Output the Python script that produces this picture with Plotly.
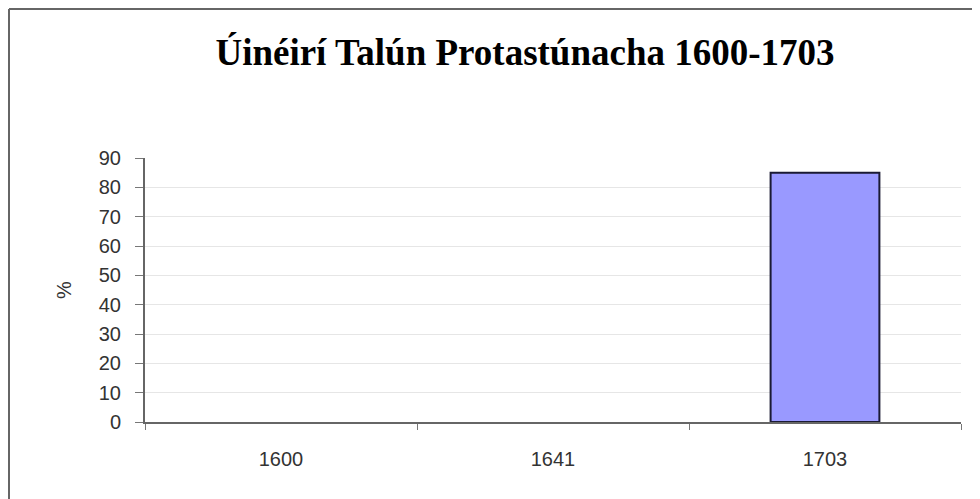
import plotly.graph_objects as go

categories = ["1600", "1641", "1703"]
values = [0, 0, 85]
y_ticks = [0, 10, 20, 30, 40, 50, 60, 70, 80, 90]

# page body adds an 8px offset; positions below are reference pixels minus 8
OFF = 8
W, H = 980, 499
L = 145 - OFF
T = 158 - OFF
R = W - (961 - OFF)
B = H - (422 - OFF)
pw, ph = W - L - R, H - T - B

def px_x(x):
    return (x - OFF - L) / pw

def px_y(y):
    return (H - B - (y - OFF)) / ph

fig = go.Figure()
fig.add_trace(go.Bar(
    x=categories, y=values,
    marker=dict(color="#9999ff",
                line=dict(color="#1a1a33", width=[2 if v > 0 else 0 for v in values])),
    width=0.4,
))

fig.update_layout(
    width=W, height=H,
    margin=dict(l=L, r=R, t=T, b=B),
    paper_bgcolor="white", plot_bgcolor="white",
    showlegend=False,
    title=dict(
        text="<b>Úinéirí Talún Protastúnacha 1600-1703</b>",
        font=dict(family="Liberation Serif, Times New Roman, serif", size=37, color="black"),
        x=px_x(525), xanchor="center", xref="paper",
        y=1 - (52 - OFF) / H, yanchor="middle",
    ),
    font=dict(family="Liberation Sans, Arial, sans-serif", color="#333333"),
)

fig.update_xaxes(
    type="category",
    tickson="boundaries",
    ticks="outside", ticklen=6, tickwidth=1, tickcolor="#777777",
    showline=True, linecolor="#666666", linewidth=2,
    showgrid=False,
    tickfont=dict(size=20, color="#333333"),
    ticklabelstandoff=18,
    range=[-0.5, 2.5],
)
fig.update_yaxes(
    range=[0, 90],
    tickvals=y_ticks,
    ticks="outside", ticklen=8, tickwidth=1, tickcolor="#777777",
    showline=True, linecolor="#666666", linewidth=2,
    showgrid=True, gridcolor="#e6e6e6", gridwidth=1,
    zeroline=False,
    tickfont=dict(size=20, color="#333333"),
    ticklabelstandoff=10,
    title=dict(text="%", font=dict(size=20, color="#333333"), standoff=22),
)

# outer chart border (top and left edges visible)
fig.add_shape(type="line", xref="paper", yref="paper",
              x0=px_x(9), y0=px_y(9), x1=px_x(1000), y1=px_y(9),
              line=dict(color="#666666", width=2))
fig.add_shape(type="line", xref="paper", yref="paper",
              x0=px_x(9), y0=px_y(9), x1=px_x(9), y1=px_y(520),
              line=dict(color="#666666", width=2))

fig.write_html("out.html")
